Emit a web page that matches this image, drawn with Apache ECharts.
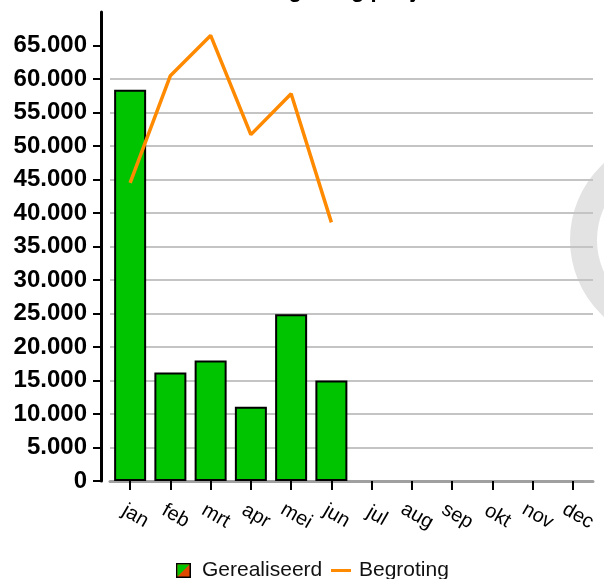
<!DOCTYPE html>
<html>
<head>
<meta charset="utf-8">
<style>
  html, body { margin: 0; padding: 0; background: #fff; }
  #main { width: 604px; height: 579px; }
</style>
<script src="https://cdn.jsdelivr.net/npm/echarts@6/dist/echarts.min.js"></script>
</head>
<body>
<div id="main"></div>
<script>
let months = ['jan', 'feb', 'mrt', 'apr', 'mei', 'jun', 'jul', 'aug', 'sep', 'okt', 'nov', 'dec'] // x axis
let gerealiseerd = [58400, 16200, 18000, 11100, 24900, 15000, null, null, null, null, null, null] // bars
let begroting = [44500, 60500, 66500, 51700, 57800, 38600, null, null, null, null, null, null] // line
let yTicks = [0, 5000, 10000, 15000, 20000, 25000, 30000, 35000, 40000, 45000, 50000, 55000, 60000, 65000]

let green = '#00c400'
let orange = '#ff8a00'

// thousands with a dot, like 65.000
function fmt(v) {
  return String(v).replace(/\B(?=(\d{3})+(?!\d))/g, '.')
}

let barIcon = 'image://data:image/svg+xml;charset=utf-8,' + encodeURIComponent(
  "<svg xmlns='http://www.w3.org/2000/svg' width='15' height='15'>" +
  "<rect x='0.75' y='0.75' width='13.5' height='13.5' fill='#e04a00' stroke='#000' stroke-width='1.5'/>" +
  "<path d='M1.5 1.5 H13.5 L1.5 13.5 Z' fill='" + green + "'/></svg>")

let chart = echarts.init(document.getElementById('main'))

let option = {
  animation: false,
  textStyle: { fontFamily: 'Liberation Sans, Arial, sans-serif' },
  title: {
    text: 'Realisatie begroting per jaar',
    left: 'center',
    top: -25,
    textStyle: { fontSize: 22, fontWeight: 'bold', color: '#000' }
  },
  graphic: [{
    // grey watermark ring at the right edge
    type: 'ring',
    z: -10,
    silent: true,
    shape: { cx: 674, cy: 240, r: 104, r0: 77 },
    style: { fill: '#e3e3e3' }
  }],
  legend: [{
    data: [{ name: 'Gerealiseerd', icon: barIcon }],
    left: 171,
    top: 555,
    itemWidth: 15,
    itemHeight: 15,
    textStyle: { fontSize: 21, color: '#111', padding: [0, 0, 0, 6] }
  }, {
    data: [{ name: 'Begroting', icon: 'rect' }],
    left: 326,
    top: 555,
    itemWidth: 20,
    itemHeight: 3,
    textStyle: { fontSize: 21, color: '#111', padding: [0, 0, 0, 3] }
  }],
  grid: { left: 110, right: 11, top: 12, bottom: 98 },
  xAxis: {
    type: 'category',
    data: months,
    axisLine: { lineStyle: { color: '#a0a0a0', width: 3 } },
    axisTick: { show: true, alignWithLabel: true, length: 9, lineStyle: { color: '#000', width: 2 } },
    axisLabel: {
      interval: 0,
      rotate: -30,
      align: 'center',
      verticalAlign: 'middle',
      margin: 32,
      padding: [0, 0, 0, 12],
      fontSize: 20,
      color: '#000'
    },
    splitLine: { show: false }
  },
  yAxis: {
    type: 'value',
    min: 0,
    max: 70000,
    interval: 5000,
    offset: 9,
    axisLine: { show: true, lineStyle: { color: '#000', width: 3 } },
    axisTick: { show: true, length: 8, customValues: yTicks, lineStyle: { color: '#000', width: 2 } },
    axisLabel: {
      customValues: yTicks,
      margin: 14,
      fontSize: 24,
      fontWeight: 'bold',
      color: '#000',
      formatter: fmt
    },
    splitLine: { show: true, showMaxLine: false, lineStyle: { color: '#c4c4c4', width: 2 } }
  },
  series: [{
    name: 'Gerealiseerd',
    type: 'bar',
    barWidth: 32,
    itemStyle: { color: green, borderColor: '#000', borderWidth: 2 },
    data: gerealiseerd
  }, {
    name: 'Begroting',
    type: 'line',
    symbol: 'none',
    color: orange,
    lineStyle: { color: orange, width: 3.5 },
    data: begroting
  }]
}

chart.setOption(option)
</script>
</body>
</html>
